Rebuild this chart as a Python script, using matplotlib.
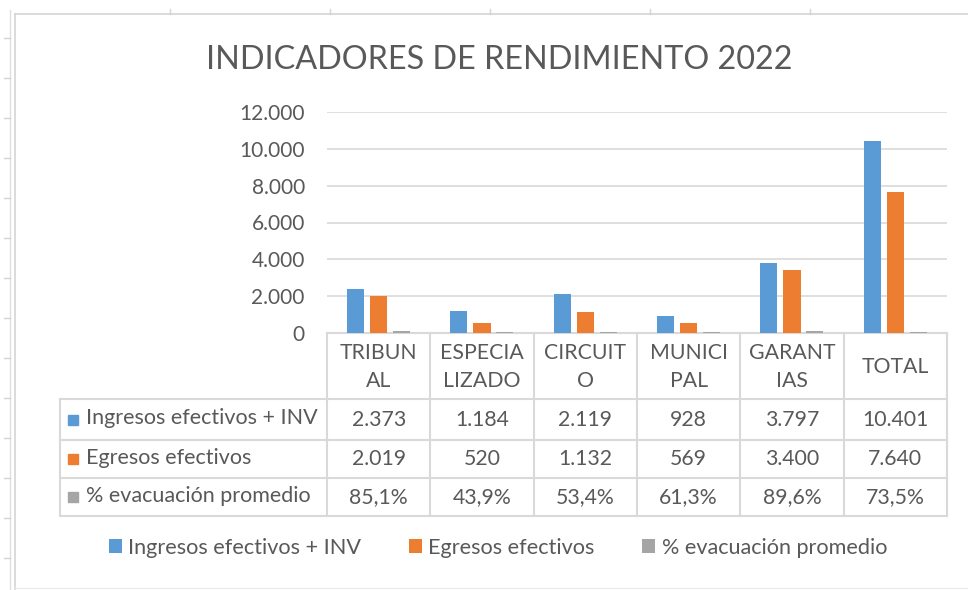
import matplotlib.pyplot as plt
import numpy as np
from matplotlib.patches import Rectangle

plt.rcParams['font.family'] = ['Lato', 'DejaVu Sans']

categorias = ['TRIBUN\nAL', 'ESPECIA\nLIZADO', 'CIRCUIT\nO', 'MUNICI\nPAL', 'GARANT\nIAS', 'TOTAL']
ingresos = [2373, 1184, 2119, 928, 3797, 10401]
egresos = [2019, 520, 1132, 569, 3400, 7640]
evacuacion = [85.1, 43.9, 53.4, 61.3, 89.6, 73.5]
series = ['Ingresos efectivos + INV', 'Egresos efectivos', '% evacuación promedio']
colores = ['#5B9BD5', '#ED7D31', '#A5A5A5']
titulo = 'INDICADORES DE RENDIMIENTO 2022'

gris_txt = '#595959'
gris_lin = '#D9D9D9'

def miles(v):
    return '{:,.0f}'.format(v).replace(',', '.')

def pct(v):
    return '{:.1f}%'.format(v).replace('.', ',')

W, H = 968, 590
fig = plt.figure(figsize=(W / 100, H / 100), dpi=100)

# capa de fondo en pixeles (hoja de calculo + tabla)
bg = fig.add_axes([0, 0, 1, 1])
bg.set_xlim(0, W)
bg.set_ylim(H, 0)
bg.axis('off')

# restos de la hoja de excel
bg.plot([15, W], [14, 14], color='#D4D4D4', lw=1.2)
bg.plot([15, 15], [14, H], color='#D4D4D4', lw=1.2)
bg.plot([10, 10], [10, H], color='#E0E0E0', lw=1)
bg.plot([15, W], [588, 588], color='#EBEBEB', lw=1)
for xt in [170, 330, 490, 650, 810]:
    bg.plot([xt, xt], [9, 14], color='#D4D4D4', lw=1)
for yt in range(38, H, 40):
    bg.plot([4, 10], [yt, yt], color='#D4D4D4', lw=1)

bg.text(499, 60, titulo, ha='center', va='center', fontsize=23.3, color=gris_txt)

# grafico
ax = fig.add_axes([327 / W, (H - 333) / H, 620 / W, 221 / H])
x = np.arange(len(categorias))
ancho = 0.165
desp = [-0.225, 0.0, 0.22]
valores = [ingresos, egresos, evacuacion]
barras = []
for i in range(3):
    b = ax.bar(x + desp[i], valores[i], ancho, color=colores[i], zorder=3)
    barras.append(b)
ax.set_xlim(-0.5, len(categorias) - 0.5)
ax.set_ylim(0, 12000)
ax.set_yticks(np.arange(0, 12001, 2000))
ax.set_yticklabels([miles(v) for v in np.arange(0, 12001, 2000)])
ax.tick_params(axis='y', length=0, pad=16, labelsize=15, labelcolor=gris_txt)
ax.set_xticks([])
ax.grid(axis='y', color=gris_lin, lw=1.2, zorder=0)
for s in ax.spines.values():
    s.set_visible(False)
ax.set_facecolor('none')

# tabla de datos
x0, x1 = 327, 947
bordes = [x0 + i * (x1 - x0) / len(categorias) for i in range(len(categorias) + 1)]
filas = [333, 399, 440, 478, 516]
izq = 60
bg.plot([x0, x1], [filas[0], filas[0]], color=gris_lin, lw=1.5)
for yf in filas[1:]:
    bg.plot([izq, x1], [yf, yf], color=gris_lin, lw=1.5)
bg.plot([izq, izq], [filas[1], filas[-1]], color=gris_lin, lw=1.5)
for xb in bordes:
    bg.plot([xb, xb], [filas[0], filas[-1]], color=gris_lin, lw=1.5)

for j, c in enumerate(categorias):
    cx = (bordes[j] + bordes[j + 1]) / 2
    bg.text(cx, (filas[0] + filas[1]) / 2 + 1, c, ha='center', va='center',
            fontsize=15.3, color=gris_txt, linespacing=1.55)

textos = [[miles(v) for v in ingresos], [miles(v) for v in egresos], [pct(v) for v in evacuacion]]
for i in range(3):
    cy = (filas[i + 1] + filas[i + 2]) / 2
    bg.add_patch(Rectangle((68, cy - 5), 10, 10, color=colores[i]))
    bg.text(86, cy - 1, series[i], ha='left', va='center', fontsize=15.5, color=gris_txt)
    for j in range(len(categorias)):
        cx = (bordes[j] + bordes[j + 1]) / 2
        bg.text(cx, cy, textos[i][j], ha='center', va='center', fontsize=15.3, color=gris_txt)

# leyenda
fig.legend(barras, series, loc='center', bbox_to_anchor=(498 / W, (H - 548) / H), ncol=3,
           frameon=False, fontsize=15.6, handlelength=0.6, handleheight=0.6,
           handletextpad=0.3, columnspacing=2.2, labelcolor=gris_txt)

fig.savefig('out.png', dpi=100)
